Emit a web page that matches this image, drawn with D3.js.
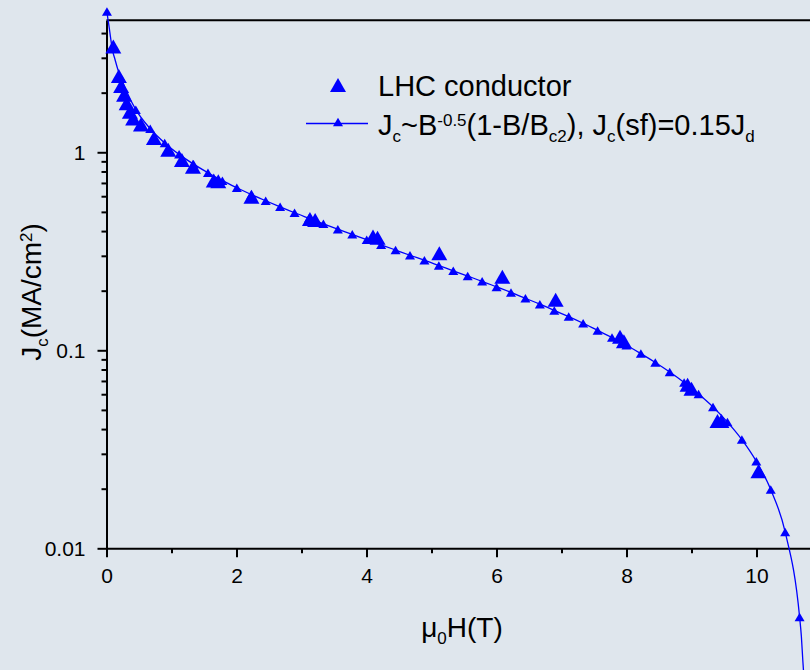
<!DOCTYPE html>
<html>
<head>
<meta charset="utf-8">
<script src="https://cdn.jsdelivr.net/npm/d3@7"></script>
<style>
  html, body { margin: 0; padding: 0; background: #dfe6ed; }
  svg { display: block; font-family: "Liberation Sans", Arial, sans-serif; }
</style>
</head>
<body>
<div id="chart"></div>
<script>
// ---- data ----
// LHC conductor measurements: field (T) and Jc (MA/cm^2)
const dataB = [0.105, 0.19, 0.225, 0.27, 0.31, 0.36, 0.41, 0.53, 0.73, 0.95, 1.16, 1.33, 1.65, 1.72, 2.23,
               3.13, 3.21, 4.10, 4.17, 5.12, 6.09, 6.91, 7.90, 7.96, 8.94, 9.00, 9.40, 9.46, 10.03];
const dataJ = [3.42, 2.43, 2.16, 1.95, 1.77, 1.60, 1.48, 1.38, 1.18, 1.03, 0.914, 0.846, 0.72, 0.715, 0.597,
               0.46, 0.455, 0.375, 0.37, 0.309, 0.235, 0.18, 0.117, 0.111, 0.067, 0.064, 0.044, 0.044, 0.0245];

// fit curve: nodes carrying a marker
const fitMarkerB = [0.007, 0.229, 0.451, 0.673, 0.895, 1.117, 1.339, 1.561, 1.783, 2.005, 2.227, 2.449, 2.671,
                    2.893, 3.115, 3.337, 3.559, 3.781, 4.003, 4.225, 4.447, 4.669, 4.891, 5.113, 5.335, 5.557,
                    5.779, 6.001, 6.223, 6.445, 6.667, 6.889, 7.111, 7.333, 7.555, 7.777, 7.999, 8.221, 8.443,
                    8.665, 8.887, 9.109, 9.331, 9.553, 9.775, 9.997, 10.219, 10.441, 10.663];
const fitMarkerJ = [5.14, 2.352, 1.641, 1.315, 1.115, 0.976, 0.871, 0.788, 0.719, 0.662, 0.612, 0.569, 0.530,
                    0.495, 0.464, 0.435, 0.409, 0.385, 0.362, 0.341, 0.321, 0.302, 0.285, 0.268, 0.252, 0.237,
                    0.223, 0.209, 0.196, 0.183, 0.171, 0.159, 0.148, 0.137, 0.126, 0.116, 0.106, 0.0962, 0.0868,
                    0.0777, 0.0688, 0.0601, 0.0517, 0.0434, 0.0354, 0.0275, 0.0198, 0.0121, 0.0045];
// fit curve: extra nodes without marker
const fitExtraB = [0.02, 0.04, 0.06, 0.09, 0.13, 0.17, 10.69, 10.71, 10.73, 10.76];
const fitExtraJ = [4.75, 4.3, 3.85, 3.3, 2.95, 2.65, 0.0036, 0.0028, 0.0022, 0.0013];

const xMajorTicks = [0, 2, 4, 6, 8, 10];
const xMinorTicks = [1, 3, 5, 7, 9];
const yMajorTicks = [0.01, 0.1, 1];
const yTickLabels = ["0.01", "0.1", "1"];
const yMinorTicks = [0.02, 0.03, 0.04, 0.05, 0.06, 0.07, 0.08, 0.09,
                     0.2, 0.3, 0.4, 0.5, 0.6, 0.7, 0.8, 0.9, 2, 3, 4];

const legendLabel1 = "LHC conductor";

// ---- drawing ----
const W = 810, H = 670;
const blue = "#0000ff";
const svg = d3.select("#chart").append("svg").attr("width", W).attr("height", H);
svg.append("rect").attr("width", W).attr("height", H).attr("fill", "#dfe6ed");

const x = d3.scaleLinear().domain([0, 11]).range([106.5, 821.5]);
const y = d3.scaleLog().domain([0.01, 4.64]).range([548.3, 20.3]);

function tri(w, h) {
  return (cx, cy) => `M${cx},${cy - h / 2}L${cx + w / 2},${cy + h / 2}L${cx - w / 2},${cy + h / 2}Z`;
}
const bigTri = tri(16, 14);
const smallTri = tri(10, 8.5);

// axes
const axisG = svg.append("g");
const gx = axisG.append("g").attr("transform", `translate(0,${y(0.01)})`)
  .call(d3.axisBottom(x).tickValues(xMajorTicks).tickSize(9).tickSizeOuter(0).tickPadding(11).tickFormat(d3.format("d")));
const gxm = axisG.append("g").attr("transform", `translate(0,${y(0.01)})`)
  .call(d3.axisBottom(x).tickValues(xMinorTicks).tickSize(5).tickSizeOuter(0).tickFormat(""));
const gy = axisG.append("g").attr("transform", `translate(${x(0)},0)`)
  .call(d3.axisLeft(y).tickValues(yMajorTicks).tickSize(9).tickSizeOuter(0).tickPadding(12)
        .tickFormat((d, i) => yTickLabels[i]));
const gym = axisG.append("g").attr("transform", `translate(${x(0)},0)`)
  .call(d3.axisLeft(y).tickValues(yMinorTicks).tickSize(5).tickSizeOuter(0).tickFormat(""));

[gx, gxm, gy, gym].forEach(g => {
  g.selectAll("path, line").attr("stroke", "#000").attr("stroke-width", 2);
  g.selectAll("text").attr("fill", "#000").style("font-size", "21px")
   .style("font-family", '"Liberation Sans", Arial, sans-serif');
});
gxm.select(".domain").remove();
gym.select(".domain").remove();

// top frame line
axisG.append("line")
  .attr("x1", x(0)).attr("x2", x(11)).attr("y1", y(4.64)).attr("y2", y(4.64))
  .attr("stroke", "#000").attr("stroke-width", 2);

// fit curve
const fitNodes = fitMarkerB.map((b, i) => [b, fitMarkerJ[i]])
  .concat(fitExtraB.map((b, i) => [b, fitExtraJ[i]]))
  .sort((a, b) => a[0] - b[0]);
const line = d3.line().x(d => x(d[0])).y(d => y(d[1])).curve(d3.curveMonotoneX);
svg.append("path").datum(fitNodes).attr("d", line)
  .attr("fill", "none").attr("stroke", blue).attr("stroke-width", 1.3);

svg.append("g").selectAll("path").data(fitMarkerB.map((b, i) => [b, fitMarkerJ[i]]))
  .join("path").attr("d", d => smallTri(x(d[0]), y(d[1]))).attr("fill", blue);

// measured data
svg.append("g").selectAll("path").data(dataB.map((b, i) => [b, dataJ[i]]))
  .join("path").attr("d", d => bigTri(x(d[0]), y(d[1]))).attr("fill", blue);

// legend
const leg = svg.append("g").style("font-family", '"Liberation Sans", Arial, sans-serif').attr("fill", "#000");
leg.append("path").attr("d", bigTri(338, 85)).attr("fill", blue);
leg.append("text").attr("x", 378).attr("y", 96).style("font-size", "29px").text(legendLabel1);
leg.append("line").attr("x1", 306).attr("x2", 368).attr("y1", 123.5).attr("y2", 123.5)
  .attr("stroke", blue).attr("stroke-width", 1.3);
leg.append("path").attr("d", smallTri(338, 122)).attr("fill", blue);

function richText(parent, parts, size, subSize) {
  // parts: [text, kind] kind: "n" normal, "sub", "sup"
  let shift = 0;
  parts.forEach(([t, k]) => {
    let target = k === "sub" ? 7 : k === "sup" ? -9 : 0;
    parent.append("tspan").attr("dy", target - shift)
      .style("font-size", (k === "n" ? size : subSize) + "px").text(t);
    shift = target;
  });
}
const t2 = leg.append("text").attr("x", 378).attr("y", 135);
richText(t2, [["J", "n"], ["c", "sub"], ["~B", "n"], ["-0.5", "sup"], ["(1-B/B", "n"], ["c2", "sub"],
              ["), J", "n"], ["c", "sub"], ["(sf)=0.15J", "n"], ["d", "sub"]], 29, 17);

// axis titles
const xt = svg.append("text").attr("x", 462).attr("y", 637).attr("text-anchor", "middle")
  .style("font-family", '"Liberation Sans", Arial, sans-serif');
richText(xt, [["μ", "n"], ["0", "sub"], ["H(T)", "n"]], 28, 17);

const yt = svg.append("text").attr("transform", "translate(41,292) rotate(-90)").attr("text-anchor", "middle")
  .style("font-family", '"Liberation Sans", Arial, sans-serif');
richText(yt, [["J", "n"], ["c", "sub"], ["(MA/cm", "n"], ["2", "sup"], [")", "n"]], 28, 17);
</script>
</body>
</html>
